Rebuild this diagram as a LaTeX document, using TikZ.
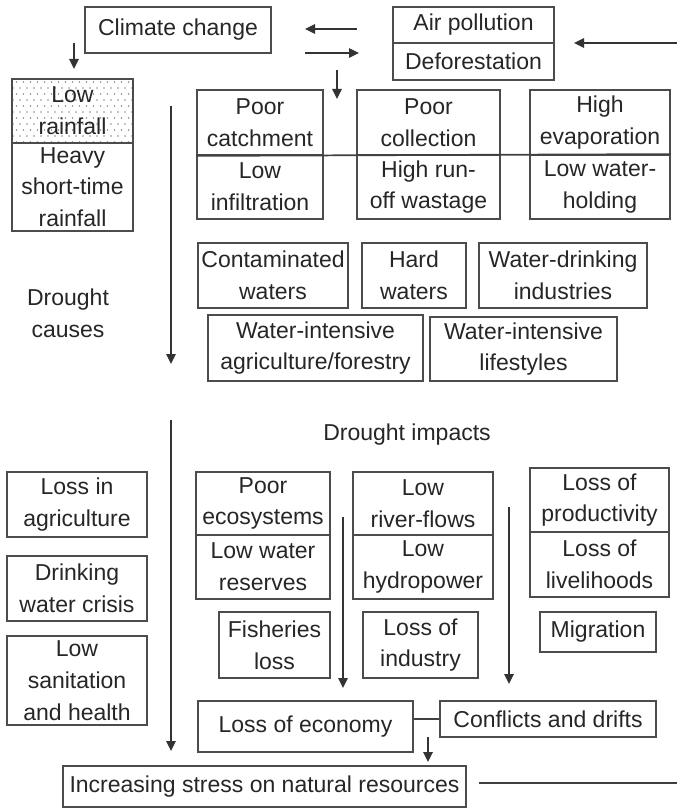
\documentclass[tikz,border=0pt]{standalone}
\usepackage{fontspec}
\setmainfont{Liberation Sans}
\usetikzlibrary{arrows.meta}
\newcommand{\mybox}[6]{\node[box, minimum width={(#4-#2)*0.75pt}, minimum height={(#5-#3)*0.75pt}] (#1) at ({(#2+#4)/2},{(#3+#5)/2}) {#6};}
\begin{document}
\begin{tikzpicture}[x=0.75pt,y=-0.75pt,
  txt/.style={align=center, text=black!85, font=\fontsize{17.25}{23.8}\selectfont},
  box/.style={txt, draw=black!70, line width=1.3pt, inner sep=0pt},
  arr/.style={draw=black!80, line width=1.6pt, -{Triangle[length=7.5pt,width=7pt]}},
  ln/.style={draw=black!75, line width=1.3pt},
  dot/.style={fill=black!45, draw=none}]
\useasboundingbox (0,0) rectangle (677,809);
% dots in Low rainfall
\begin{scope}
\clip (12,79) rectangle (133,143);
\foreach \yy [count=\i] in {82,88,...,146} {
  \pgfmathsetmacro{\off}{mod(\i,2)*3.5}
  \foreach \xx in {13,20,...,136} {
    \fill[dot] (\xx+\off,\yy) circle (0.9);
  }
}
\end{scope}
% top
\mybox{cc}{85}{7}{271}{53}{Climate change}
\mybox{air}{393}{7}{554}{43}{Air pollution}
\mybox{defo}{393}{43}{554}{80}{Deforestation}
\mybox{lowrain}{12}{79}{133}{143}{Low\\rainfall}
\mybox{heavy}{12}{143}{133}{231}{Heavy\\short-time\\rainfall}
% causes row 1
\mybox{catch}{197}{90}{323}{155}{Poor\\catchment}
\mybox{infil}{197}{155}{323}{219}{Low\\infiltration}
\mybox{coll}{357}{90}{500}{155}{Poor\\collection}
\mybox{runoff}{357}{155}{500}{219}{High run-\\off wastage}
\mybox{evap}{530}{90}{670}{155}{High\\evaporation}
\mybox{hold}{530}{155}{670}{219}{Low water-\\holding}
\draw[ln] (catch.south west) -- (hold.north east);
% causes row 2
\mybox{contam}{198}{243}{348}{308}{Contaminated\\waters}
\mybox{hard}{362}{243}{466}{308}{Hard\\waters}
\mybox{wdi}{479}{243}{647}{308}{Water-drinking\\industries}
\mybox{wia}{208}{315}{423}{381}{Water-intensive\\agriculture/forestry}
\mybox{wil}{430}{317}{617}{381}{Water-intensive\\lifestyles}
\node[txt] (causes) at (68,313) {Drought\\causes};
\node[txt] (impacts) at (407,435) {Drought impacts};
% impacts left column
\mybox{lia}{7}{472}{147}{537}{Loss in\\agriculture}
\mybox{dwc}{7}{556}{147}{621}{Drinking\\water crisis}
\mybox{lsh}{7}{636}{147}{725}{Low\\sanitation\\and health}
% impacts
\mybox{eco}{196}{472}{330}{535}{Poor\\ecosystems}
\mybox{res}{196}{535}{330}{599}{Low water\\reserves}
\mybox{fish}{219}{612}{330}{678}{Fisheries\\loss}
\mybox{river}{353}{472}{493}{535}{Low\\river-flows}
\mybox{hydro}{353}{535}{493}{599}{Low\\hydropower}
\mybox{ind}{363}{612}{478}{678}{Loss of\\industry}
\mybox{prod}{530}{468}{669}{532}{Loss of\\productivity}
\mybox{live}{530}{532}{669}{597}{Loss of\\livelihoods}
\mybox{mig}{540}{612}{656}{652}{Migration}
\mybox{econ}{198}{701}{413}{752}{Loss of economy}
\mybox{conf}{440}{701}{656}{737}{Conflicts and drifts}
\mybox{stress}{63}{766}{466}{807}{Increasing stress on natural resources}
% coordinates for free arrows
\coordinate (a1s) at (357,29); \coordinate (a1e) at (305,29);
\coordinate (a2s) at (305,53); \coordinate (a2e) at (359,53);
\coordinate (a3s) at (337,70); \coordinate (a3e) at (337,99);
\coordinate (a4s) at (677,43); \coordinate (a4e) at (574,43);
\coordinate (a5s) at (74,43); \coordinate (a5e) at (74,69);
\coordinate (a6s) at (171,106); \coordinate (a6e) at (171,364);
\coordinate (a7s) at (171,420); \coordinate (a7e) at (171,751);
\coordinate (a8s) at (343,517); \coordinate (a8e) at (343,688);
\coordinate (a9s) at (509,507); \coordinate (a9e) at (509,684);
\coordinate (a10s) at (428,737); \coordinate (a10e) at (428,762);
\coordinate (rls) at (479,783); \coordinate (rle) at (677,783);
\draw[arr] (a1s) -- (a1e);
\draw[arr] (a2s) -- (a2e);
\draw[arr] (a3s) -- (a3e);
\draw[arr] (a4s) -- (a4e);
\draw[arr] (a5s) -- (a5e);
\draw[arr] (a6s) -- (a6e);
\draw[arr] (a7s) -- (a7e);
\draw[arr] (a8s) -- (a8e);
\draw[arr] (a9s) -- (a9e);
\draw[arr] (a10s) -- (a10e);
\draw[ln] (conf.west -| econ.east) -- (conf.west);
\draw[ln] (rls) -- (rle);
\end{tikzpicture}
\end{document}
